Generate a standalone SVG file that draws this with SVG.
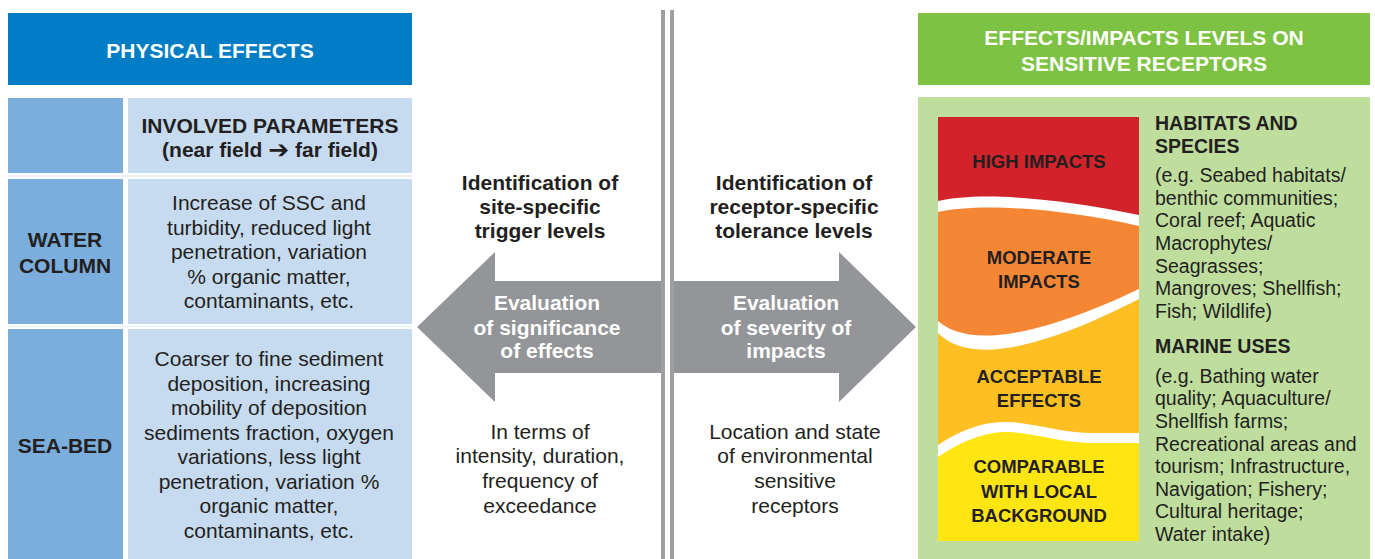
<svg xmlns="http://www.w3.org/2000/svg" width="1375" height="559" viewBox="0 0 1375 559">
  <style>
    text { font-family: "Liberation Sans", Arial, sans-serif; fill: #231F20; }
    .b { font-weight: bold; }
    .w { fill: #FFFFFF; }
    .t21 { font-size: 21px; }
    .t19 { font-size: 19.5px; }
    .t18 { font-size: 18.5px; }
    .mid { text-anchor: middle; }
    .arr { font-family: "DejaVu Sans", sans-serif; font-size: 25px; font-weight: bold; }
  </style>
  <rect width="1375" height="559" fill="#FFFFFF"/>

  <!-- Left side: physical effects -->
  <g id="physical-effects-header">
    <rect x="8" y="13" width="404" height="72" fill="#007DC5"/>
    <text class="b w t21 mid" x="210" y="58">PHYSICAL EFFECTS</text>
  </g>

  <g id="parameters-header">
    <rect x="8" y="98" width="115" height="75" fill="#7BAEDD"/>
    <rect x="128" y="98" width="284" height="75" fill="#C6DBF0"/>
    <text class="b t21 mid" x="270" y="133">INVOLVED PARAMETERS</text>
    <text class="b t21 mid" x="270" y="157">(near field <tspan class="arr" dy="1">➔</tspan><tspan dy="-1"> far field)</tspan></text>
  </g>
  <line x1="8" y1="176" x2="412" y2="176" stroke="#E6EEF7" stroke-width="1.5"/>

  <g id="water-column">
    <rect x="8" y="179" width="115" height="145" fill="#7BAEDD"/>
    <rect x="128" y="179" width="284" height="145" fill="#C6DBF0"/>
    <text class="b t21 mid" x="65" y="247">WATER</text>
    <text class="b t21 mid" x="65" y="273">COLUMN</text>
    <text class="t21 mid" x="269" y="210">Increase of SSC and</text>
    <text class="t21 mid" x="269" y="235">turbidity, reduced light</text>
    <text class="t21 mid" x="269" y="259">penetration, variation</text>
    <text class="t21 mid" x="269" y="284">% organic matter,</text>
    <text class="t21 mid" x="269" y="308">contaminants, etc.</text>
  </g>
  <line x1="8" y1="326.5" x2="412" y2="326.5" stroke="#E6EEF7" stroke-width="1.5"/>

  <g id="sea-bed">
    <rect x="8" y="329" width="115" height="230" fill="#7BAEDD"/>
    <rect x="128" y="329" width="284" height="230" fill="#C6DBF0"/>
    <text class="b t21 mid" x="65" y="453">SEA-BED</text>
    <text class="t21 mid" x="269" y="366">Coarser to fine sediment</text>
    <text class="t21 mid" x="269" y="391">deposition, increasing</text>
    <text class="t21 mid" x="269" y="415">mobility of deposition</text>
    <text class="t21 mid" x="269" y="440">sediments fraction, oxygen</text>
    <text class="t21 mid" x="269" y="464">variations, less light</text>
    <text class="t21 mid" x="269" y="489">penetration, variation %</text>
    <text class="t21 mid" x="269" y="513">organic matter,</text>
    <text class="t21 mid" x="269" y="538">contaminants, etc.</text>
  </g>

  <!-- Centre divider and evaluation arrows -->
  <g id="connectors">
    <rect x="661" y="10" width="4" height="549" fill="#9D9FA2"/>
    <rect x="670" y="10" width="4" height="549" fill="#9D9FA2"/>
    <polygon points="417,327 495,252 495,281 661,281 661,373 495,373 495,402" fill="#939598"/>
    <polygon points="674,281 839,281 839,252 916,327 839,402 839,373 674,373" fill="#939598"/>
  </g>

  <g id="significance-evaluation">
    <text class="b t21 mid" x="540" y="190">Identification of</text>
    <text class="b t21 mid" x="540" y="214">site-specific</text>
    <text class="b t21 mid" x="540" y="238">trigger levels</text>
    <text class="b w t21 mid" x="547" y="310">Evaluation</text>
    <text class="b w t21 mid" x="547" y="335">of significance</text>
    <text class="b w t21 mid" x="547" y="358">of effects</text>
    <text class="t21 mid" x="540" y="439">In terms of</text>
    <text class="t21 mid" x="540" y="463">intensity, duration,</text>
    <text class="t21 mid" x="540" y="488">frequency of</text>
    <text class="t21 mid" x="540" y="513">exceedance</text>
  </g>

  <g id="severity-evaluation">
    <text class="b t21 mid" x="794" y="190">Identification of</text>
    <text class="b t21 mid" x="794" y="214">receptor-specific</text>
    <text class="b t21 mid" x="794" y="238">tolerance levels</text>
    <text class="b w t21 mid" x="786" y="310">Evaluation</text>
    <text class="b w t21 mid" x="786" y="335">of severity of</text>
    <text class="b w t21 mid" x="786" y="358">impacts</text>
    <text class="t21 mid" x="795" y="439">Location and state</text>
    <text class="t21 mid" x="795" y="463">of environmental</text>
    <text class="t21 mid" x="795" y="488">sensitive</text>
    <text class="t21 mid" x="795" y="513">receptors</text>
  </g>

  <!-- Right side: effects/impacts levels -->
  <g id="impacts-header">
    <rect x="918" y="13" width="452" height="72" fill="#7DC242"/>
    <text class="b w t21 mid" x="1144" y="45">EFFECTS/IMPACTS LEVELS ON</text>
    <text class="b w t21 mid" x="1144" y="71">SENSITIVE RECEPTORS</text>
  </g>

  <g id="receptors-panel">
    <rect x="918" y="97" width="452" height="462" fill="#BFDE9E"/>
  </g>

  <g id="impact-levels">
    <rect x="938" y="117" width="201" height="424" fill="#D2232A"/>
    <path d="M938,201 C975,193 1040,195 1139,215 L1139,541 L938,541 Z" fill="#FFFFFF"/>
    <path d="M938,212 C975,204 1050,206 1139,226 L1139,541 L938,541 Z" fill="#F58634"/>
    <path d="M938,321 C960,340 1010,350 1139,289 L1139,541 L938,541 Z" fill="#FFFFFF"/>
    <path d="M938,333 C960,355 1010,365 1139,299 L1139,541 L938,541 Z" fill="#FDBF22"/>
    <path d="M938,445 C960,430 985,421 1007,422 C1035,423 1060,433 1090,433 L1139,433 L1139,541 L938,541 Z" fill="#FFFFFF"/>
    <path d="M938,457 C960,442 985,431 1007,432 C1035,433 1060,443 1090,443 L1139,443 L1139,541 L938,541 Z" fill="#FFE512"/>
    <text class="b t18 mid" x="1039" y="168">HIGH IMPACTS</text>
    <text class="b t18 mid" x="1039" y="264">MODERATE</text>
    <text class="b t18 mid" x="1039" y="288">IMPACTS</text>
    <text class="b t18 mid" x="1039" y="383">ACCEPTABLE</text>
    <text class="b t18 mid" x="1039" y="407">EFFECTS</text>
    <text class="b t18 mid" x="1039" y="473">COMPARABLE</text>
    <text class="b t18 mid" x="1039" y="498">WITH LOCAL</text>
    <text class="b t18 mid" x="1039" y="522">BACKGROUND</text>
  </g>

  <g id="habitats-and-species">
    <text class="b t19" x="1155" y="130">HABITATS AND</text>
    <text class="b t19" x="1155" y="153">SPECIES</text>
    <text class="t19" x="1155" y="182">(e.g. Seabed habitats/</text>
    <text class="t19" x="1155" y="205">benthic communities;</text>
    <text class="t19" x="1155" y="227">Coral reef; Aquatic</text>
    <text class="t19" x="1155" y="250">Macrophytes/</text>
    <text class="t19" x="1155" y="273">Seagrasses;</text>
    <text class="t19" x="1155" y="295">Mangroves; Shellfish;</text>
    <text class="t19" x="1155" y="318">Fish; Wildlife)</text>
  </g>

  <g id="marine-uses">
    <text class="b t19" x="1155" y="353">MARINE USES</text>
    <text class="t19" x="1155" y="383">(e.g. Bathing water</text>
    <text class="t19" x="1155" y="405">quality; Aquaculture/</text>
    <text class="t19" x="1155" y="428">Shellfish farms;</text>
    <text class="t19" x="1155" y="451">Recreational areas and</text>
    <text class="t19" x="1155" y="473">tourism; Infrastructure,</text>
    <text class="t19" x="1155" y="496">Navigation; Fishery;</text>
    <text class="t19" x="1155" y="518">Cultural heritage;</text>
    <text class="t19" x="1155" y="541">Water intake)</text>
  </g>
</svg>
